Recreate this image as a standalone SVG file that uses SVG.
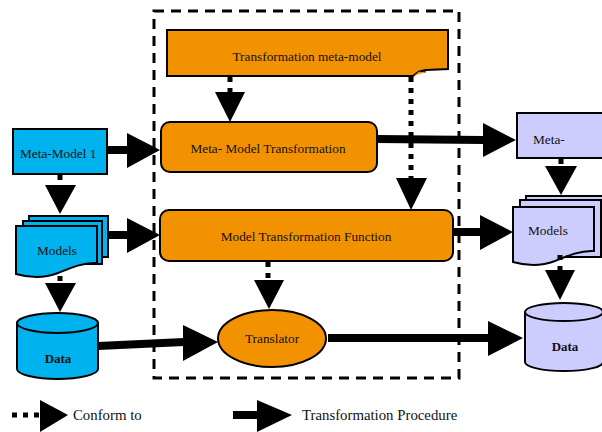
<svg xmlns="http://www.w3.org/2000/svg" width="602" height="432" viewBox="0 0 602 432">
  <style>
    text { font-family: "Liberation Serif", "Times New Roman", serif; font-size: 13.3px; fill: #111; }
    .c { text-anchor: middle; }
    .b { font-weight: bold; font-size: 13px; }
    .lg { font-size: 14.8px; }
    .blue { fill: #00B2EE; stroke: #000; stroke-width: 2; }
    .orange { fill: #F39200; stroke: #000; stroke-width: 2; }
    .lav { fill: #CCCCFF; stroke: #000; stroke-width: 2; }
    .thick { stroke: #000; stroke-width: 8; fill: none; }
    .dot { stroke: #000; stroke-width: 5; stroke-dasharray: 5 6; fill: none; }
    .head { fill: #000; stroke: none; }
    .frame { fill: none; stroke: #000; stroke-width: 3; stroke-dasharray: 10 7; }
  </style>

  <!-- dashed boundary -->
  <rect class="frame" x="154" y="11" width="305" height="367"/>

  <g id="transformation-meta-model">
    <path class="orange" d="M167,30 H448 V69 L426,70 Q418,71 413,76 H167 Z"/>
    <path d="M413,76 L419,71 L426,72" fill="#F39200" stroke="#000" stroke-width="1"/>
    <text class="c" x="307" y="61">Transformation meta-model</text>
  </g>

  <g id="meta-model-transformation">
    <rect class="orange" x="161" y="122" width="216" height="50" rx="9"/>
    <text class="c" x="268" y="153">Meta- Model Transformation</text>
  </g>

  <g id="model-transformation-function">
    <rect class="orange" x="160" y="210" width="293" height="51" rx="9"/>
    <text class="c" x="306" y="241">Model Transformation Function</text>
  </g>

  <g id="translator">
    <ellipse class="orange" cx="272" cy="338.5" rx="54" ry="28.5"/>
    <text class="c" x="272" y="343">Translator</text>
  </g>

  <g id="meta-model-left">
    <rect class="blue" x="13" y="129" width="94" height="45"/>
    <text x="20" y="158">Meta-Model 1</text>
  </g>

  <g id="models-left">
    <rect class="blue" x="29" y="216" width="79" height="41"/>
    <rect class="blue" x="23" y="221" width="79" height="43"/>
    <path class="blue" d="M16,226 H97 V263 C84,262 70,268 58,273 C45,278 30,278 16,274 Z"/>
    <text class="c" x="57" y="255">Models</text>
  </g>

  <g id="data-left">
    <path class="blue" d="M17,323 V369 A40.5,10 0 0 0 98,369 V323"/>
    <ellipse class="blue" cx="57.5" cy="323" rx="40.5" ry="10"/>
    <text class="c b" x="58" y="363">Data</text>
  </g>

  <g id="meta-model-right">
    <rect class="lav" x="517" y="113" width="95" height="45"/>
    <text x="533" y="144">Meta-</text>
  </g>

  <g id="models-right">
    <rect class="lav" x="526" y="196" width="85" height="45"/>
    <rect class="lav" x="520" y="200" width="81" height="57"/>
    <path class="lav" d="M513,207 H594 V251 C581,250 567,256 555,261 C542,266 527,266 513,262 Z"/>
    <text class="c" x="548" y="235">Models</text>
  </g>

  <g id="data-right">
    <path class="lav" d="M525,312 V362 A39,9 0 0 0 603,362 V312"/>
    <ellipse class="lav" cx="564" cy="312" rx="39" ry="9"/>
    <text class="c b" x="565" y="351">Data</text>
  </g>

  <g id="connectors">
    <!-- transformation procedures -->
    <line class="thick" x1="107" y1="150" x2="128" y2="150"/>
    <polygon class="head" points="127,133 127,168 160,150"/>
    <line class="thick" x1="108" y1="235" x2="128" y2="235"/>
    <polygon class="head" points="127,218 127,253 160,235"/>
    <line class="thick" x1="98" y1="346" x2="184" y2="342"/>
    <polygon class="head" points="183,325 183,361 218,342"/>
    <line class="thick" x1="377" y1="139" x2="484" y2="140"/>
    <polygon class="head" points="483,123 483,157 516,140"/>
    <line class="thick" x1="453" y1="232" x2="481" y2="232"/>
    <polygon class="head" points="480,215 480,250 513,232"/>
    <line class="thick" x1="328" y1="338" x2="489" y2="338"/>
    <polygon class="head" points="488,321 488,356 523,338"/>

    <!-- conformance -->
    <line class="dot" x1="230" y1="77" x2="230" y2="92"/>
    <polygon class="head" points="215,92 245,92 230,122"/>
    <line class="dot" x1="411" y1="77" x2="411" y2="178"/>
    <polygon class="head" points="396,178 427,178 411,210"/>
    <line class="dot" x1="268" y1="262" x2="268" y2="280"/>
    <polygon class="head" points="254,280 284,280 269,309"/>
    <line class="dot" x1="60" y1="175" x2="60" y2="185"/>
    <polygon class="head" points="45,185 76,185 60,214"/>
    <line class="dot" x1="60" y1="276" x2="60" y2="283"/>
    <polygon class="head" points="45,283 76,283 60,312"/>
    <line class="dot" x1="561" y1="159" x2="561" y2="166"/>
    <polygon class="head" points="545,166 577,166 561,195"/>
    <line class="dot" x1="560" y1="255" x2="560" y2="270"/>
    <polygon class="head" points="545,270 575,270 560,300"/>
  </g>

  <g id="legend">
    <line class="dot" x1="12" y1="415" x2="40" y2="415"/>
    <polygon class="head" points="40,400 40,432 68,415"/>
    <text class="lg" x="73" y="420">Conform to</text>
    <line class="thick" x1="233" y1="415" x2="258" y2="415"/>
    <polygon class="head" points="257,400 257,432 292,415"/>
    <text class="lg" x="302" y="420">Transformation Procedure</text>
  </g>
</svg>
